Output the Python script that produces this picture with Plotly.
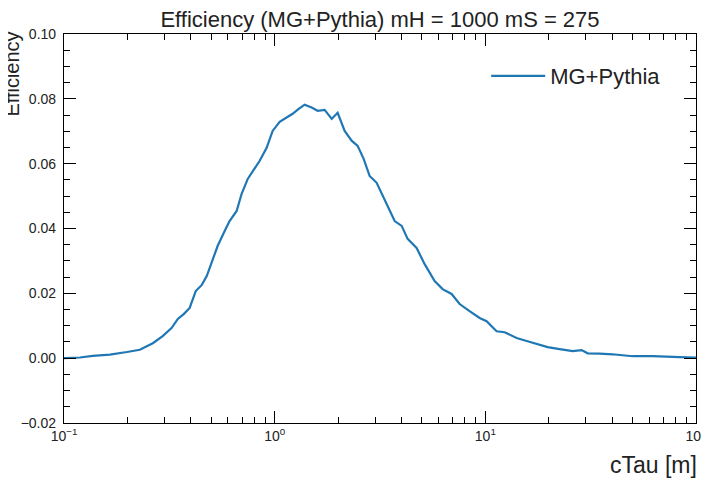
import plotly.graph_objects as go

ctau = [0.100, 0.119, 0.137, 0.165, 0.199, 0.229, 0.264, 0.294, 0.324, 0.347,
        0.370, 0.395, 0.422, 0.451, 0.476, 0.502, 0.536, 0.573, 0.611, 0.660,
        0.697, 0.745, 0.794, 0.849, 0.916, 0.978, 1.056, 1.140, 1.217, 1.300,
        1.388, 1.498, 1.600, 1.727, 1.865, 1.990, 2.149, 2.319, 2.477, 2.645,
        2.824, 3.049, 3.290, 3.514, 3.713, 4.008, 4.277, 4.718, 5.152, 5.746,
        6.270, 6.918, 7.552, 8.419, 9.395, 10.14, 11.31, 12.35, 14.08, 15.71,
        17.52, 19.76, 22.52, 25.96, 28.64, 30.61, 34.87, 40.18, 50.0, 62.2,
        83.6, 100.0]
eff = [0.0000, 0.0002, 0.0007, 0.0011, 0.0019, 0.0026, 0.0046, 0.0068, 0.0093, 0.0121,
       0.0136, 0.0155, 0.0207, 0.0226, 0.0253, 0.0294, 0.0346, 0.0386, 0.0423, 0.0454,
       0.0507, 0.0553, 0.0581, 0.0609, 0.0649, 0.0701, 0.0729, 0.0742, 0.0754, 0.0769,
       0.0782, 0.0773, 0.0763, 0.0766, 0.0738, 0.0757, 0.0701, 0.0671, 0.0655, 0.0615,
       0.0562, 0.0541, 0.0497, 0.0454, 0.0423, 0.0408, 0.0368, 0.0340, 0.0290, 0.0238,
       0.0213, 0.0198, 0.0167, 0.0145, 0.0124, 0.0114, 0.0083, 0.0080, 0.0062, 0.0053,
       0.0043, 0.0034, 0.0028, 0.0022, 0.0025, 0.0015, 0.0014, 0.0012, 0.0006, 0.0006,
       0.0003, 0.0002]

x_tick_vals = [0.1, 1, 10, 100]
x_tick_text = ["10<sup>−1</sup>", "10<sup>0</sup>", "10<sup>1</sup>", "10<sup>2</sup>"]
x_minor_vals = [m * d for d in (0.1, 1, 10) for m in range(2, 10)]
y_tick_vals = [-0.02, 0.0, 0.02, 0.04, 0.06, 0.08, 0.10]
y_minor_vals = [round(-0.02 + 0.005 * i, 3) for i in range(25)]

FONT = "Liberation Sans, Arial, sans-serif"
W, H = 701, 475  # page body adds an 8px offset

fig = go.Figure()
fig.add_trace(go.Scatter(x=ctau, y=eff, mode="lines", name="MG+Pythia",
                         line=dict(color="#1f77b4", width=2.2)))

axis_common = dict(showline=True, linecolor="black", linewidth=1.2, mirror="ticks",
                   ticks="inside", ticklen=12, tickwidth=1, tickcolor="black",
                   showgrid=False, zeroline=False, automargin=False,
                   ticklabeloverflow="allow",
                   tickfont=dict(family=FONT, size=14, color="#222"))

fig.update_xaxes(type="log", range=[-1, 2], tickmode="array",
                 tickvals=x_tick_vals, ticktext=x_tick_text,
                 minor=dict(ticks="inside", ticklen=6, tickcolor="black",
                            tickmode="array", tickvals=x_minor_vals, showgrid=False),
                 **axis_common)
fig.update_yaxes(range=[-0.02, 0.10], tickmode="array", tickvals=y_tick_vals,
                 tickformat=".2f", ticklabelstandoff=4,
                 minor=dict(ticks="inside", ticklen=6, tickcolor="black",
                            tickmode="array", tickvals=y_minor_vals, showgrid=False),
                 **axis_common)

fig.update_layout(
    width=W, height=H,
    margin=dict(l=56, r=13, t=26, b=60),
    paper_bgcolor="white", plot_bgcolor="white",
    font=dict(family=FONT, color="#222"),
    title=dict(text="Efficiency (MG+Pythia) mH = 1000 mS = 275",
               x=0.5, xref="paper", xanchor="center",
               y=1 - 11 / H, yanchor="middle",
               font=dict(family=FONT, size=22, color="#222")),
    showlegend=True,
    legend=dict(x=0.668, y=0.892, xanchor="left", yanchor="middle",
                bgcolor="rgba(0,0,0,0)", font=dict(family=FONT, size=22, color="#222"),
                itemwidth=54),
    annotations=[
        dict(text="cTau [m]", xref="paper", yref="paper", x=1 + 3 / 632, y=-0.108,
             xanchor="right", yanchor="middle", showarrow=False,
             font=dict(family=FONT, size=23, color="#222")),
        dict(text="Efficiency", xref="paper", yref="paper", x=(12 - 64) / 632, y=1.01,
             xanchor="center", yanchor="top", textangle=-90, showarrow=False,
             font=dict(family=FONT, size=20, color="#222")),
    ],
)

fig.write_html("out.html", config={"responsive": False})
